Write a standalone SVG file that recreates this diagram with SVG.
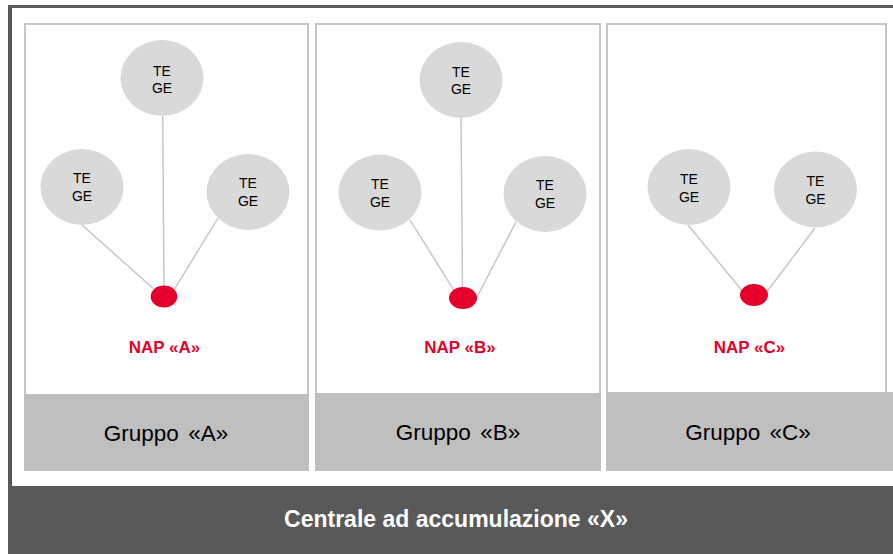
<svg xmlns="http://www.w3.org/2000/svg" width="893" height="554" viewBox="0 0 893 554">
<style>
.panel{fill:#ffffff;stroke:#c6c6c6;stroke-width:2}
.foot{fill:#bfbfbf}
.te{fill:#d9d9d9}
.tt{font-family:"Liberation Sans",Arial,sans-serif;font-size:14px;fill:#000;text-anchor:middle}
.dot{fill:#e4002b}
.nap{font-family:"Liberation Sans",Arial,sans-serif;font-size:17px;font-weight:bold;fill:#e4002b;text-anchor:middle}
.grp{font-family:"Liberation Sans",Arial,sans-serif;font-size:22.5px;word-spacing:3px;fill:#000;text-anchor:middle}
.cen{font-family:"Liberation Sans",Arial,sans-serif;font-size:23px;font-weight:bold;fill:#fff;text-anchor:middle}
.ln{stroke:#c4c4c4;stroke-width:1.4;fill:none}
</style>
<rect x="0" y="0" width="893" height="554" fill="#ffffff"/>
<g id="frame">
<rect x="8" y="5" width="885" height="3" fill="#595959"/>
<rect x="8" y="5" width="4" height="549" fill="#595959"/>
</g>
<g id="panelA">
<rect class="panel" x="25" y="24" width="283" height="446"/>
<rect class="foot" x="24" y="394" width="285" height="77"/>
<text class="grp" x="166" y="441">Gruppo «A»</text>
</g>
<g id="panelB">
<rect class="panel" x="316" y="24" width="284" height="446"/>
<rect class="foot" x="315" y="393" width="286" height="78"/>
<text class="grp" x="458" y="440">Gruppo «B»</text>
</g>
<g id="panelC">
<rect class="panel" x="607" y="24" width="279" height="446"/>
<rect class="foot" x="606" y="392" width="287" height="79"/>
<text class="grp" x="748" y="440">Gruppo «C»</text>
</g>
<g id="connectors">
<line class="ln" x1="82" y1="225" x2="155" y2="290"/>
<line class="ln" x1="162.7" y1="116" x2="164" y2="286"/>
<line class="ln" x1="218" y1="218" x2="174" y2="290"/>
<line class="ln" x1="410" y1="220" x2="455" y2="292"/>
<line class="ln" x1="461" y1="117" x2="462.5" y2="287"/>
<line class="ln" x1="516" y1="222" x2="477" y2="297"/>
<line class="ln" x1="688" y1="225" x2="744" y2="293"/>
<line class="ln" x1="815" y1="228" x2="766" y2="293"/>
</g>
<g id="teA1"><ellipse class="te" cx="162" cy="78" rx="41.5" ry="38"/><text class="tt" x="162" y="75.5">TE</text><text class="tt" x="162" y="93">GE</text></g>
<g id="teA2"><ellipse class="te" cx="82" cy="187" rx="41.5" ry="38"/><text class="tt" x="82" y="183">TE</text><text class="tt" x="82" y="200.5">GE</text></g>
<g id="teA3"><ellipse class="te" cx="248" cy="192" rx="41.5" ry="38"/><text class="tt" x="248" y="188">TE</text><text class="tt" x="248" y="205.5">GE</text></g>
<g id="napA"><ellipse class="dot" cx="164" cy="296.5" rx="13.3" ry="11"/><text class="nap" x="164.5" y="353">NAP «A»</text></g>
<g id="teB1"><ellipse class="te" cx="461" cy="80" rx="41.5" ry="38"/><text class="tt" x="461" y="76.5">TE</text><text class="tt" x="461" y="94">GE</text></g>
<g id="teB2"><ellipse class="te" cx="380" cy="192.5" rx="41.5" ry="38"/><text class="tt" x="380" y="189">TE</text><text class="tt" x="380" y="206.5">GE</text></g>
<g id="teB3"><ellipse class="te" cx="545" cy="194" rx="41.5" ry="38"/><text class="tt" x="545" y="190">TE</text><text class="tt" x="545" y="207.5">GE</text></g>
<g id="napB"><ellipse class="dot" cx="463" cy="298" rx="14" ry="11"/><text class="nap" x="460" y="353">NAP «B»</text></g>
<g id="teC1"><ellipse class="te" cx="689" cy="187" rx="41.5" ry="38"/><text class="tt" x="689" y="184">TE</text><text class="tt" x="689" y="201.5">GE</text></g>
<g id="teC2"><ellipse class="te" cx="815.5" cy="189.5" rx="41.5" ry="38"/><text class="tt" x="815.5" y="186">TE</text><text class="tt" x="815.5" y="203.5">GE</text></g>
<g id="napC"><ellipse class="dot" cx="754" cy="295" rx="14" ry="11"/><text class="nap" x="749.5" y="353">NAP «C»</text></g>
<g id="central">
<rect x="8" y="486" width="885" height="68" fill="#595959"/>
<text class="cen" x="456" y="527">Centrale ad accumulazione «X»</text>
</g>
</svg>
